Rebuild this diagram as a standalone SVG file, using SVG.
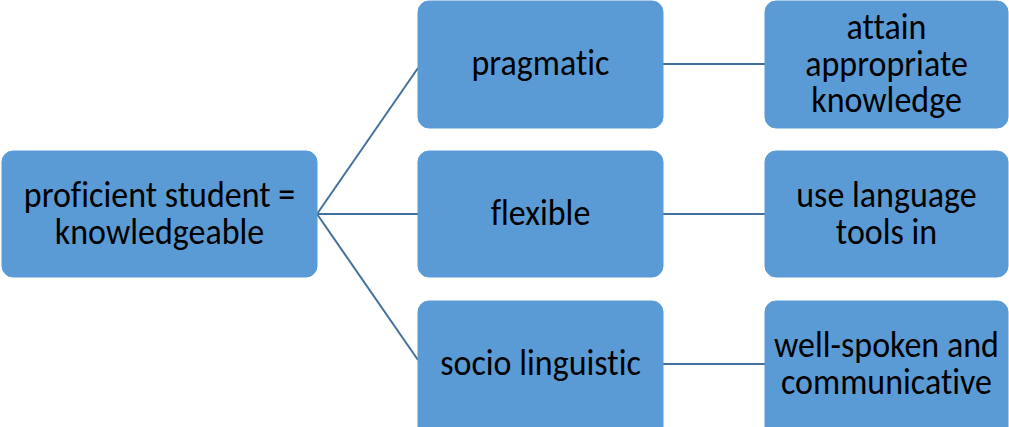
<svg xmlns="http://www.w3.org/2000/svg" width="1009" height="427" viewBox="0 0 1009 427">
<style>
.box{fill:#5B9BD5;stroke:#5B9BD5;stroke-width:1}
.lbl{font-family:Carlito,Calibri,"Liberation Sans",sans-serif;font-size:34px;fill:#000;text-anchor:middle;font-variant-ligatures:none}
.con{stroke:#41719C;stroke-width:2;fill:none}
</style>
<rect width="1009" height="427" fill="#fff"/>
<g id="connectors">
<line class="con" x1="317" y1="214" x2="418" y2="68"/>
<line class="con" x1="317" y1="214" x2="418" y2="214"/>
<line class="con" x1="317" y1="214" x2="418" y2="360"/>
<line class="con" x1="663" y1="64" x2="765" y2="64"/>
<line class="con" x1="663" y1="214" x2="765" y2="214"/>
<line class="con" x1="663" y1="364" x2="765" y2="364"/>
</g>
<g id="root"><rect class="box" x="2" y="151" width="315" height="126" rx="11"/>
<text class="lbl" transform="translate(159.5,207) scale(1,1.1)">proficient student =</text>
<text class="lbl" transform="translate(159.5,244) scale(1,1.1)">knowledgeable</text></g>
<g id="pragmatic"><rect class="box" x="418" y="1" width="245" height="127" rx="11"/>
<text class="lbl" transform="translate(540.5,75) scale(1,1.1)">pragmatic</text></g>
<g id="flexible"><rect class="box" x="418" y="151" width="245" height="126" rx="11"/>
<text class="lbl" transform="translate(540.5,225) scale(1,1.1)">flexible</text></g>
<g id="socio"><rect class="box" x="418" y="301" width="245" height="140" rx="11"/>
<text class="lbl" transform="translate(540.5,375) scale(1,1.1)">socio linguistic</text></g>
<g id="attain"><rect class="box" x="765" y="1" width="243" height="127" rx="11"/>
<text class="lbl" transform="translate(886.5,39) scale(1,1.1)">attain</text>
<text class="lbl" transform="translate(886.5,76) scale(1,1.1)">appropriate</text>
<text class="lbl" transform="translate(886.5,112) scale(1,1.1)">knowledge</text></g>
<g id="use"><rect class="box" x="765" y="151" width="243" height="126" rx="11"/>
<text class="lbl" transform="translate(886.5,207) scale(1,1.1)">use language</text>
<text class="lbl" transform="translate(886.5,244) scale(1,1.1)">tools in</text></g>
<g id="well"><rect class="box" x="765" y="301" width="243" height="140" rx="11"/>
<text class="lbl" transform="translate(886.5,357) scale(1,1.1)">well-spoken and</text>
<text class="lbl" transform="translate(886.5,394) scale(1,1.1)">communicative</text></g>
</svg>
